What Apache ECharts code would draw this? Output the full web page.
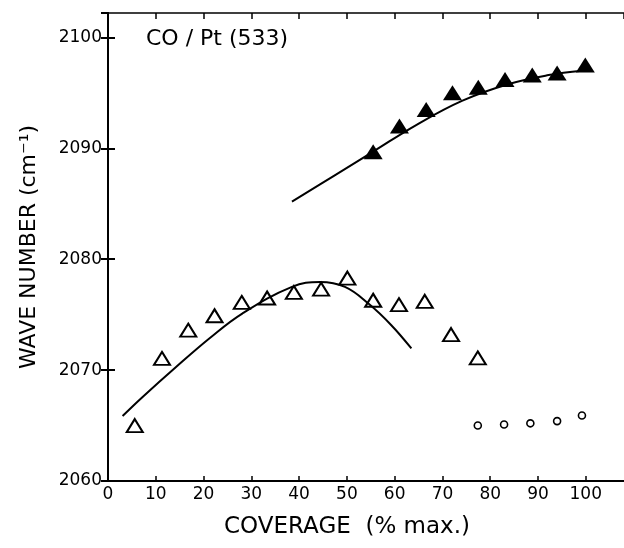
<!DOCTYPE html>
<html>
<head>
<meta charset="utf-8">
<script src="https://cdn.jsdelivr.net/npm/echarts@6/dist/echarts.min.js"></script>
<style>
    html, body {margin: 0; padding: 0; background: #fff;}
    #chart {width: 624px; height: 548px;}
</style>
</head>
<body>
<div id="chart"></div>
<script>
// open triangles (low frequency band)
var openTri = [
    [5.6, 2065.0], [11.3, 2071.05], [16.8, 2073.6], [22.3, 2074.9], [28.0, 2076.1],
    [33.3, 2076.5], [38.9, 2077.0], [44.6, 2077.3], [50.1, 2078.3], [55.5, 2076.3],
    [60.9, 2075.9], [66.3, 2076.2], [71.8, 2073.2], [77.4, 2071.1]
];

// filled triangles (high frequency band)
var filledTri = [
    [55.5, 2089.7], [61.0, 2092.0], [66.6, 2093.5], [72.1, 2095.0], [77.5, 2095.5],
    [83.1, 2096.2], [88.8, 2096.6], [94.0, 2096.8], [99.9, 2097.5]
];

// small circles
var circles = [
    [77.4, 2065.0], [82.9, 2065.1], [88.4, 2065.2], [94.0, 2065.4], [99.2, 2065.9]
];

// hand drawn curves
var lowCurve = [
    [3.05, 2065.86], [7.3, 2067.6], [14.3, 2070.3], [21.2, 2072.85], [28.1, 2075.1],
    [38.5, 2077.5], [44.4, 2077.95], [49.6, 2077.5], [54.5, 2076.0],
    [59.3, 2074.05], [63.5, 2071.95]
];
var highCurve = [
    [38.5, 2085.2], [47.2, 2087.5], [55.5, 2089.7], [64.5, 2092.1], [74.2, 2094.3],
    [83.9, 2095.8], [92.2, 2096.6], [99.2, 2097.0]
];

var font = 'DejaVu Sans';
var myChart = echarts.init(document.getElementById('chart'));

var lineStyle = {color: '#000', width: 2};

var option = {
    backgroundColor: '#fff',
    animation: false,
    title: {
        text: 'CO / Pt (533)',
        left: 141,
        top: 23,
        textStyle: {fontFamily: font, fontSize: 22, fontWeight: 'normal', color: '#000'}
    },
    grid: {left: 108, right: -4, top: 13, bottom: 67},
    xAxis: [
        {
            type: 'value',
            min: 0,
            max: 108,
            interval: 10,
            name: 'COVERAGE  (% max.)',
            nameLocation: 'middle',
            nameGap: 35,
            nameTextStyle: {fontFamily: font, fontSize: 23, color: '#000', padding: [0, 38, 0, 0]},
            axisLine: {lineStyle: {color: '#000', width: 2}},
            axisTick: {inside: true, length: 5, lineStyle: {color: '#000', width: 1.5}},
            axisLabel: {fontFamily: font, fontSize: 17, color: '#000', margin: 5, showMaxLabel: false},
            splitLine: {show: false}
        },
        {
            type: 'value',
            position: 'top',
            min: 0,
            max: 108,
            interval: 10,
            axisLine: {lineStyle: {color: '#000', width: 1.5}},
            axisTick: {inside: true, length: 6, lineStyle: {color: '#000', width: 1.5}},
            axisLabel: {show: false},
            splitLine: {show: false}
        }
    ],
    yAxis: [
        {
            type: 'value',
            min: 2060,
            max: 2102.2,
            interval: 10,
            name: 'WAVE NUMBER (cm⁻¹)',
            nameLocation: 'middle',
            nameGap: 68,
            nameTextStyle: {fontFamily: font, fontSize: 22, color: '#000'},
            axisLine: {lineStyle: {color: '#000', width: 2}},
            axisTick: {inside: true, length: 7, lineStyle: {color: '#000', width: 2}},
            axisLabel: {
                fontFamily: font, fontSize: 17, color: '#000', margin: 6, showMaxLabel: false,
                formatter: function (v) {
                    return String(v);
                }
            },
            splitLine: {show: false}
        },
        {
            type: 'value',
            position: 'right',
            min: 2060,
            max: 2102.2,
            interval: 10,
            axisLine: {show: true, lineStyle: {color: '#000', width: 2}},
            axisTick: {inside: true, length: 7, lineStyle: {color: '#000', width: 2}},
            axisLabel: {show: false},
            splitLine: {show: false}
        }
    ],
    series: [
        {
            type: 'line',
            data: lowCurve,
            smooth: 0.4,
            symbol: 'none',
            lineStyle: lineStyle
        },
        {
            type: 'line',
            data: highCurve,
            smooth: 0.4,
            symbol: 'none',
            lineStyle: lineStyle
        },
        {
            type: 'scatter',
            data: openTri,
            symbol: 'triangle',
            symbolSize: [16, 13],
            itemStyle: {color: 'transparent', borderColor: '#000', borderWidth: 2, opacity: 1}
        },
        {
            type: 'scatter',
            data: filledTri,
            symbol: 'triangle',
            symbolSize: [19, 15],
            itemStyle: {color: '#000', opacity: 1}
        },
        {
            type: 'scatter',
            data: circles,
            symbol: 'circle',
            symbolSize: 7,
            itemStyle: {color: 'transparent', borderColor: '#000', borderWidth: 1.6, opacity: 1}
        }
    ]
};

myChart.setOption(option);
</script>
</body>
</html>
